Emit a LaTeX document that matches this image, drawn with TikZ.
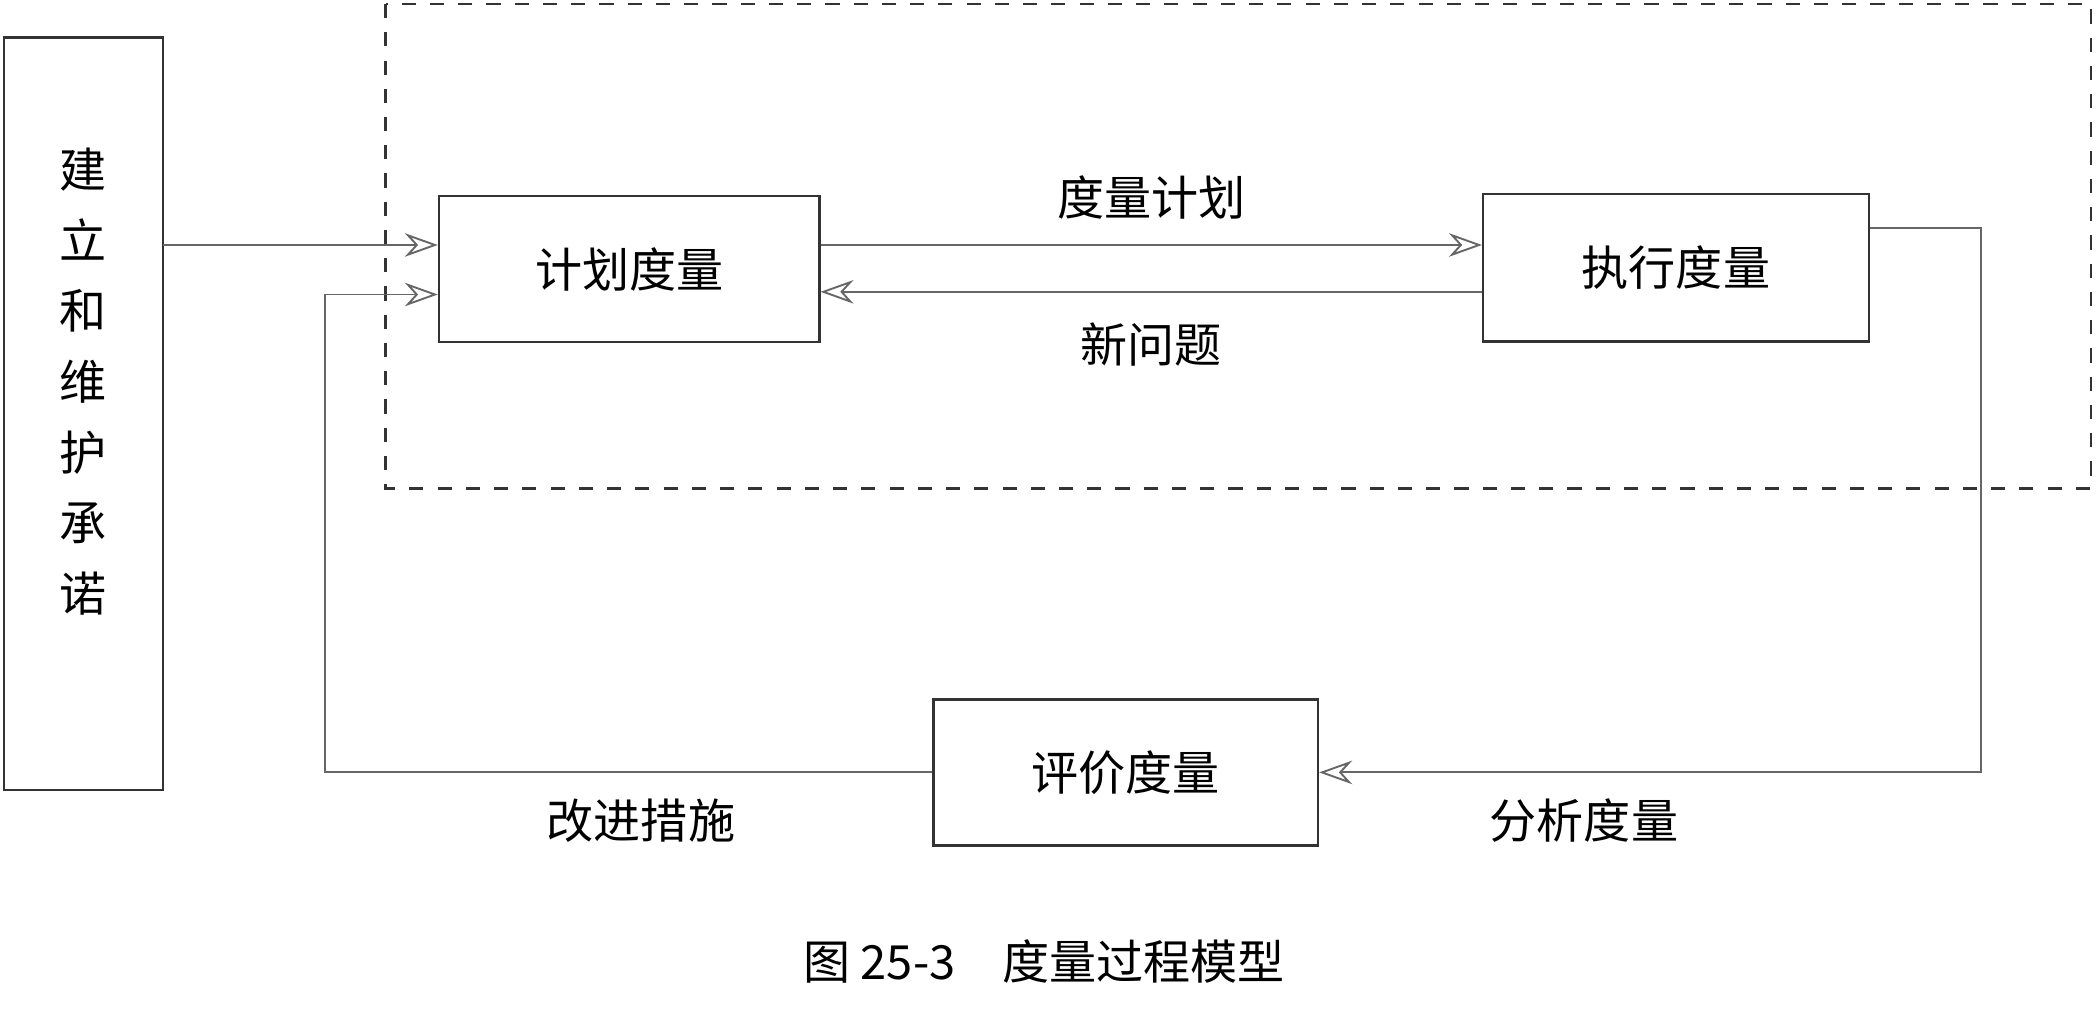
\documentclass[tikz,border=0pt]{standalone}
\usepackage{fontspec}
\setmainfont{Noto Sans CJK SC}
\usetikzlibrary{arrows.meta}
\begin{document}
\begin{tikzpicture}[x=0.01cm,y=-0.01cm,
  box/.style={draw=black!80,line width=0.5pt},
  lbl/.style={font=\fontsize{10}{12}\selectfont},
  con/.style={draw=black!60,line width=0.4pt,-{Stealth[open,length=7pt,width=5pt]}}]
\useasboundingbox (0,0) rectangle (1568,757);
\draw[box] (3,28) rectangle (122,590);
\node[lbl,align=center] (L) at (62,285) {建\\[3pt]立\\[3pt]和\\[3pt]维\\[3pt]护\\[3pt]承\\[3pt]诺};
\coordinate (Lr) at (122,183);
\draw[box,dashed] (288,3) rectangle (1562,365);
\node[box,lbl,minimum width=2.84cm,minimum height=1.09cm] (P) at (470,201) {计划度量};
\node[box,lbl,minimum width=2.88cm,minimum height=1.10cm] (E) at (1252,200) {执行度量};
\node[box,lbl,minimum width=2.87cm,minimum height=1.09cm] (V) at (841,577) {评价度量};
\draw[con] (Lr) -- (P.west |- Lr);
\draw[con] (P.east |- 0,183) -- (E.west |- 0,183) node[lbl,midway,above=2pt] {度量计划};
\draw[con] (E.west |- 0,218) -- (P.east |- 0,218) node[lbl,midway,below=3pt] {新问题};
\draw[con] (E.east |- 0,170) -- (1480,170) -- (1480,577) -- (V.east) node[lbl,pos=0.6,below=2pt] {分析度量};
\draw[con] (V.west) -- (243,577) node[lbl,pos=0.48,below=2pt] {改进措施} -- (243,220) -- (P.west |- 0,220);
\node[lbl] (C) at (780,718) {图 25-3\quad 度量过程模型};
\end{tikzpicture}
\end{document}
